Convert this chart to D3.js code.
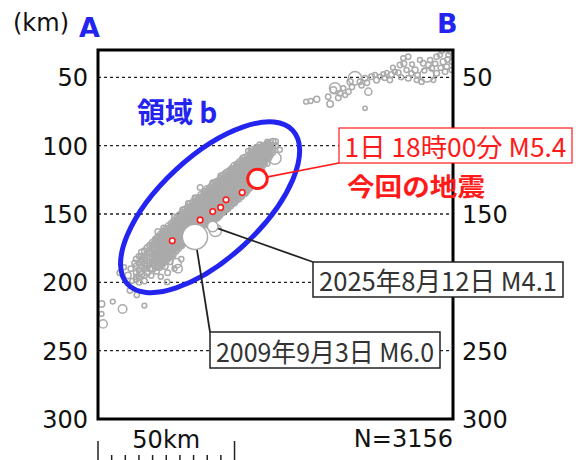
<!DOCTYPE html>
<html>
<head>
<meta charset="utf-8">
<script src="https://cdn.jsdelivr.net/npm/d3@7"></script>
<style>
  body { margin: 0; background: #fff; }
  svg { display: block; }
</style>
</head>
<body>
<svg id="chart" width="584" height="460"></svg>
<script>
// ---- data: distance along A-B (km), depth (km), magnitude ----
const depthTicks = [50, 100, 150, 200, 250, 300];
const rightDepthTicks = [50, 150, 250, 300];   // 100 and 200 sit under the label boxes
const gridDepths = [50, 100, 150, 200, 250];
const scaleBarKm = 50;
const scaleBarStepKm = 5;
const eventCount = 3156;

// dense slab seismicity: [distance, magnitude, [depths]]
const bandRows = [
  [14, 2.6, [183, 188, 193, 198]],
  [15, 2.5, [181, 186, 191, 196, 200]],
  [16, 2.8, [178, 184, 189, 194]],
  [17, 2.6, [177, 182, 186, 190, 195]],
  [18, 2.9, [175, 180, 184, 188, 193]],
  [19, 2.7, [173, 178, 182, 186, 190]],
  [20, 3.0, [171, 175, 179, 182, 186, 190]],
  [20.5, 2.7, [172, 176, 180, 184, 187]],
  [21, 2.9, [169, 173, 177, 180, 184, 188]],
  [21.5, 2.8, [170, 174, 178, 181, 185, 189]],
  [22, 3.2, [167, 171, 175, 178, 181, 185, 188]],
  [22.5, 2.9, [168, 172, 176, 179, 183, 186, 189]],
  [23, 3.0, [165, 169, 173, 176, 179, 183, 186]],
  [23.5, 2.8, [166, 170, 174, 177, 180, 184, 187]],
  [24, 3.2, [163, 167, 171, 174, 177, 181, 184]],
  [24.5, 2.9, [164, 168, 172, 175, 178, 182, 185]],
  [25, 3.0, [161, 165, 169, 172, 175, 179, 182]],
  [25.5, 2.8, [162, 166, 170, 173, 176, 180, 183]],
  [26, 3.3, [159, 163, 167, 170, 173, 177, 180]],
  [26.5, 2.9, [160, 164, 168, 171, 174, 178, 181]],
  [27, 3.1, [157, 161, 164, 168, 171, 175, 178]],
  [27.5, 2.8, [158, 162, 165, 169, 172, 176, 179]],
  [28, 3.2, [155, 159, 162, 166, 169, 173, 176]],
  [28.5, 2.9, [156, 160, 163, 167, 170, 174, 177]],
  [29, 3.0, [153, 157, 160, 164, 167, 171, 174]],
  [29.5, 2.8, [154, 158, 161, 165, 168, 172, 175]],
  [30, 3.3, [151, 155, 158, 162, 165, 169, 172]],
  [30.5, 2.9, [152, 156, 159, 163, 166, 170, 173]],
  [31, 3.1, [149, 153, 156, 160, 163, 167, 170]],
  [31.5, 2.8, [150, 154, 157, 161, 164, 168, 171]],
  [32, 3.2, [147, 151, 154, 158, 161, 165, 168]],
  [32.5, 2.9, [148, 152, 155, 159, 162, 166, 169]],
  [33, 3.0, [145, 149, 152, 156, 159, 163, 166]],
  [33.5, 2.8, [146, 150, 153, 157, 160, 164, 167]],
  [34, 3.3, [143, 147, 150, 154, 157, 161, 164]],
  [34.5, 2.9, [144, 148, 151, 155, 158, 162, 165]],
  [35, 3.1, [141, 145, 148, 152, 155, 159, 162]],
  [35.5, 2.8, [142, 146, 149, 153, 156, 160, 163]],
  [36, 3.2, [139, 143, 147, 150, 153, 157, 160]],
  [36.5, 2.9, [140, 144, 148, 151, 154, 158, 161]],
  [37, 3.0, [138, 141, 145, 148, 152, 155, 158]],
  [37.5, 2.8, [139, 142, 146, 149, 153, 156, 159]],
  [38, 3.3, [136, 140, 143, 147, 150, 153, 157]],
  [38.5, 2.9, [137, 141, 144, 148, 151, 154, 158]],
  [39, 3.1, [134, 138, 141, 145, 148, 152, 155]],
  [39.5, 2.8, [135, 139, 142, 146, 149, 153, 156]],
  [40, 3.2, [132, 136, 140, 143, 146, 150, 153, 157]],
  [40.5, 2.9, [133, 137, 141, 144, 147, 151, 154, 158]],
  [41, 3.0, [131, 134, 138, 141, 145, 148, 151, 155]],
  [41.5, 2.8, [132, 135, 139, 142, 146, 149, 152, 156]],
  [42, 3.3, [129, 133, 136, 140, 143, 146, 150, 153]],
  [42.5, 2.9, [130, 134, 137, 141, 144, 147, 151, 154]],
  [43, 3.1, [127, 131, 134, 138, 141, 145, 148, 152]],
  [43.5, 2.8, [128, 132, 135, 139, 142, 146, 149, 153]],
  [44, 3.2, [126, 129, 133, 136, 139, 143, 146, 150]],
  [44.5, 2.9, [127, 130, 134, 137, 140, 144, 147, 151]],
  [45, 3.0, [124, 127, 131, 134, 138, 141, 144, 148]],
  [45.5, 2.8, [125, 128, 132, 135, 139, 142, 145, 149]],
  [46, 3.3, [122, 126, 129, 133, 136, 139, 143, 146]],
  [46.5, 2.9, [123, 127, 130, 134, 137, 140, 144, 147]],
  [47, 3.1, [120, 124, 127, 131, 134, 138, 141, 145]],
  [47.5, 2.8, [121, 125, 128, 132, 135, 139, 142, 146]],
  [48, 3.2, [119, 122, 126, 129, 132, 136, 139, 143]],
  [48.5, 2.9, [120, 123, 127, 130, 133, 137, 140, 144]],
  [49, 3.0, [117, 121, 124, 127, 131, 134, 137, 141]],
  [49.5, 2.8, [118, 122, 125, 128, 132, 135, 138, 142]],
  [50, 3.3, [115, 119, 122, 126, 129, 132, 136, 139]],
  [50.5, 2.9, [116, 120, 123, 127, 130, 133, 137, 140]],
  [51, 3.1, [114, 117, 121, 124, 127, 131, 134, 138]],
  [51.5, 2.8, [115, 118, 122, 125, 128, 132, 135, 139]],
  [52, 3.2, [112, 116, 119, 122, 125, 129, 132, 136]],
  [52.5, 2.9, [113, 117, 120, 123, 126, 130, 133, 137]],
  [53, 3.0, [111, 114, 117, 120, 124, 127, 130, 134]],
  [53.5, 2.8, [112, 115, 118, 121, 125, 128, 131, 135]],
  [54, 3.3, [109, 112, 116, 119, 122, 125, 128, 132]],
  [54.5, 2.9, [110, 113, 117, 120, 123, 126, 129, 133]],
  [55, 3.1, [108, 111, 114, 117, 120, 123, 126, 130]],
  [55.5, 2.8, [109, 112, 115, 118, 121, 124, 127, 131]],
  [56, 3.2, [106, 109, 112, 115, 118, 121, 124, 128]],
  [56.5, 2.9, [107, 110, 113, 116, 119, 122, 125, 129]],
  [57, 3.0, [105, 108, 111, 114, 117, 120, 124]],
  [57.5, 2.8, [106, 109, 112, 115, 118, 121, 125]],
  [58, 3.2, [103, 106, 109, 112, 115, 118, 121]],
  [58.5, 2.9, [104, 107, 110, 113, 116, 119, 122]],
  [59, 3.0, [102, 105, 108, 111, 114, 117]],
  [59.5, 2.8, [103, 106, 109, 112, 115, 118]],
  [60, 3.1, [101, 104, 107, 110, 113]],
  [60.5, 2.8, [102, 105, 108, 111, 114]],
  [61, 2.9, [100, 103, 106, 109, 112]],
  [61.5, 2.7, [101, 104, 107, 110]],
  [62, 3.0, [99, 102, 105, 108]],
  [62.5, 2.7, [100, 103, 106, 109]],
  [63, 2.8, [98, 101, 104, 107]],
  [64, 2.9, [97, 100, 103]],
  [65, 2.6, [97, 100]]
];

// scattered events around the slab: [distance, depth, magnitude]
const slabFringe = [
  [8, 193, 2.6], [9.5, 189, 2.3], [11, 195, 3.0], [12, 190, 2.5], [12.5, 199, 2.2],
  [13.5, 186, 2.8], [14, 196, 2.4], [15.5, 192, 3.2], [16, 183, 2.4], [17, 199, 2.6],
  [17.5, 188, 2.3], [18.5, 178, 3.0], [19.5, 195, 2.4], [20.5, 186, 3.4], [21.5, 192, 2.5],
  [22.5, 183, 2.8], [23, 196, 2.3], [24.5, 188, 3.0], [25.5, 193, 2.6], [26.5, 185, 2.5],
  [28, 190, 2.3], [29.3, 190, 3.6], [25.3, 199.7, 2.5], [27.5, 180, 2.7], [30.5, 183, 2.4],
  [19, 173, 2.6], [16, 181, 3.0], [22, 163, 2.8], [24, 160, 2.3], [21.3, 168, 2.5],
  [28, 152, 2.4], [31, 147, 2.6], [33, 142, 2.2], [35.5, 138, 2.5], [37.4, 130.6, 2.6],
  [39, 133, 2.3], [42, 127, 2.4], [45, 122, 2.6], [49, 117.8, 2.7], [51, 113, 2.3],
  [53, 109, 2.6], [55, 104, 2.4], [56.3, 103, 3.0], [56.8, 105.3, 4.0], [59.3, 99.5, 2.8],
  [60, 100.7, 2.5], [63, 99.5, 2.6], [64.8, 109.2, 4.4], [66.6, 103, 2.3], [64, 105, 2.5],
  [62, 97, 2.2], [58, 101, 2.3],
  [33, 166, 2.5], [36, 160, 2.6], [40, 158, 2.4], [44, 152, 2.8], [47, 147, 2.3],
  [50, 142, 2.5], [54, 135, 2.4], [57, 127, 2.2], [60, 118, 2.6], [62, 113, 2.4],
  [31, 172, 2.6], [38, 164, 3.6], [43, 162, 4.4], [28.8, 186, 3.8],
  [1.3, 215.8, 3.0], [5.4, 214.1, 2.2], [9, 219.5, 3.6], [17, 217, 2.2], [11.7, 206, 2.5],
  [14.2, 209.2, 2.4], [1.3, 223.1, 2.2], [1.9, 230.4, 3.5]
];

// shallow cluster toward B
const shallowQuakes = [
  [76.2, 67.8, 2.2], [77.9, 67.3, 2.2], [80.1, 66.1, 2.8], [85, 69.5, 3.0], [84.3, 64.2, 2.5],
  [86.2, 59.3, 3.0], [86.8, 58, 4.2], [88.6, 61.7, 2.5], [89.8, 58, 2.3], [91.7, 60.5, 2.5],
  [92.3, 53.2, 2.8], [94.1, 50.7, 4.6], [95.9, 53.2, 2.5], [97.8, 50.7, 2.6], [99, 60.5, 3.2],
  [100.2, 49.5, 2.6], [101.4, 48.3, 2.3], [103.3, 49.5, 2.2], [104.5, 47.6, 2.2], [105.7, 46.6, 2.0],
  [97.8, 72.7, 2.0], [106.9, 52, 2.4], [108.7, 45.9, 2.2], [110.6, 41, 2.5], [111.8, 36.1, 2.3],
  [113.6, 34.9, 2.4], [113, 44.6, 2.3], [113.6, 50.7, 2.6], [116.1, 44.6, 2.8], [117.9, 37.3, 2.3],
  [119.1, 39.7, 2.5], [118.5, 53.2, 2.4], [120.4, 48.3, 4.7], [121.6, 37.3, 2.4], [122.2, 43.4, 2.6],
  [124, 34.9, 2.5], [125.2, 33.7, 2.2], [126.4, 38.6, 2.8], [127.7, 42.2, 2.5], [128.3, 33.7, 2.3],
  [128.9, 31.2, 2.1], [129.5, 38.6, 2.2], [129.5, 44.6, 2.3], [127.1, 45.9, 2.5], [124, 47.1, 2.6],
  [122.8, 52, 2.2], [116.7, 52, 2.2], [114.8, 47.1, 2.4],
  [88, 65, 2.6], [90.5, 63, 2.2], [93, 57, 2.4], [96.5, 56, 2.3], [98.5, 54, 2.5],
  [102, 52, 2.7], [105, 50.5, 2.3], [107.5, 48, 2.6], [110, 46.5, 2.4], [112, 40, 2.6],
  [115, 40.5, 2.2], [117, 48.5, 2.5], [119.5, 45, 2.3], [121, 41, 2.7], [123.5, 40, 2.3],
  [125.5, 43, 2.4], [126, 30.5, 2.2], [128, 37, 2.6], [130, 35, 2.2], [111, 50, 2.3], [108, 43, 2.2]
];

// events of the current sequence: [distance, depth]
const recentQuakes = [[27.2, 169.6], [37.4, 154.3], [42, 148.2], [44.9, 145.2], [46.9, 139.6], [52.8, 134.3]];
const recentMag = 2.6;

const mainShock = { dist: 58.4, depth: 124.3, mag: 5.4, label: "1日 18時00分 M5.4", note: "今回の地震" };
const pastEvents = [
  { dist: 35.5, depth: 166.7, mag: 6.0, label: "2009年9月3日 M6.0" },
  { dist: 42.0, depth: 159.2, mag: 4.1, label: "2025年8月12日 M4.1" }
];

// outlined region: ends of the long axis (distance, depth) and minor/major ratio
const regionB = { from: [10.8, 201.3], to: [71.3, 88.8], ratio: 0.45, name: "領域 b" };

// ---- layout ----
const frame = { left: 98, right: 453, top: 50, bottom: 419 };
const svg = d3.select("#chart");
const blue = "#2424f0";
const red = "#ff1a1a";
const grey = "#aaaaaa";
const sans = "'DejaVu Sans', sans-serif";
const cjk = "'Noto Sans CJK JP', sans-serif";

const x = d3.scaleLinear().domain([0, 130]).range([frame.left, frame.right]);
const y = d3.scaleLinear().domain([30, 300]).range([frame.top, frame.bottom]);
const r = d3.scaleLinear().domain([1, 2, 3, 4, 5, 6]).range([1.4, 2.2, 3.2, 5.0, 7.8, 12.6]);

svg.append("defs").append("clipPath").attr("id", "plot-clip")
  .append("rect")
  .attr("x", frame.left).attr("y", frame.top)
  .attr("width", frame.right - frame.left).attr("height", frame.bottom - frame.top);

// depth grid
svg.append("g").selectAll("line").data(gridDepths).join("line")
  .attr("x1", frame.left).attr("x2", frame.right)
  .attr("y1", d => y(d)).attr("y2", d => y(d))
  .attr("stroke", "#222").attr("stroke-width", 1.4).attr("stroke-dasharray", "3,3");

// hypocentres
const bandQuakes = bandRows.flatMap(([dist, mag, depths]) => depths.map(dp => [dist, dp, mag]));
const allQuakes = [...bandQuakes, ...slabFringe, ...shallowQuakes];

const plot = svg.append("g").attr("clip-path", "url(#plot-clip)");
plot.append("g").selectAll("circle").data(allQuakes).join("circle")
  .attr("cx", d => x(d[0])).attr("cy", d => y(d[1])).attr("r", d => r(d[2]))
  .attr("fill", "none").attr("stroke", grey).attr("stroke-width", 1.5);

// region outline
{
  const p1 = [x(regionB.from[0]), y(regionB.from[1])];
  const p2 = [x(regionB.to[0]), y(regionB.to[1])];
  const cx = (p1[0] + p2[0]) / 2, cy = (p1[1] + p2[1]) / 2;
  const a = Math.hypot(p2[0] - p1[0], p2[1] - p1[1]) / 2;
  const ang = Math.atan2(p2[1] - p1[1], p2[0] - p1[0]) * 180 / Math.PI;
  svg.append("ellipse")
    .attr("transform", `translate(${cx},${cy}) rotate(${ang})`)
    .attr("rx", a).attr("ry", a * regionB.ratio)
    .attr("fill", "none").attr("stroke", blue).attr("stroke-width", 5);
}

// annotation boxes
const boxes = [
  { ev: pastEvents[0], x: 210, y: 332, w: 230, h: 36, tl: 218, corner: "top", color: "#333", stroke: "#222" },
  { ev: pastEvents[1], x: 313, y: 262, w: 250, h: 35, tl: 238, corner: "top", color: "#333", stroke: "#222" },
  { ev: mainShock,     x: 339, y: 128, w: 233, h: 35, tl: 222, corner: "bottom", color: red, stroke: red }
];

// leader lines
svg.append("g").selectAll("line").data(boxes).join("line")
  .attr("x1", d => x(d.ev.dist)).attr("y1", d => y(d.ev.depth))
  .attr("x2", d => d.x).attr("y2", d => d.corner === "top" ? d.y : d.y + d.h)
  .attr("stroke", d => d.stroke).attr("stroke-width", d => d.ev === mainShock ? 1.6 : 1.8);

// labelled past events
svg.append("g").selectAll("circle").data(pastEvents).join("circle")
  .attr("cx", d => x(d.dist)).attr("cy", d => y(d.depth)).attr("r", d => r(d.mag))
  .attr("fill", "#fff").attr("stroke", grey).attr("stroke-width", 1.5);

// current sequence
svg.append("g").selectAll("circle").data(recentQuakes).join("circle")
  .attr("cx", d => x(d[0])).attr("cy", d => y(d[1])).attr("r", r(recentMag))
  .attr("fill", "#fff").attr("stroke", red).attr("stroke-width", 1.6);

svg.append("circle")
  .attr("cx", x(mainShock.dist)).attr("cy", y(mainShock.depth)).attr("r", r(mainShock.mag))
  .attr("fill", "#fff").attr("stroke", red).attr("stroke-width", 3);

// frame
svg.append("rect")
  .attr("x", frame.left).attr("y", frame.top)
  .attr("width", frame.right - frame.left).attr("height", frame.bottom - frame.top)
  .attr("fill", "none").attr("stroke", "#000").attr("stroke-width", 3);

// depth axes
function styleAxis(g) {
  g.select(".domain").remove();
  g.selectAll("text").attr("font-family", sans).attr("font-size", 24).attr("fill", "#111").attr("dy", "0.36em");
}
svg.append("g").attr("transform", `translate(${frame.left},0)`)
  .call(d3.axisLeft(y).tickValues(depthTicks).tickSize(0).tickPadding(10)).call(styleAxis);
svg.append("g").attr("transform", `translate(${frame.right},0)`)
  .call(d3.axisRight(y).tickValues(rightDepthTicks).tickSize(0).tickPadding(9)).call(styleAxis);

// boxes with text
const boxG = svg.append("g").selectAll("g").data(boxes).join("g");
boxG.append("rect")
  .attr("x", d => d.x).attr("y", d => d.y).attr("width", d => d.w).attr("height", d => d.h)
  .attr("fill", "#fff").attr("stroke", d => d.stroke).attr("stroke-width", d => d.ev === mainShock ? 1.2 : 1.5);
boxG.append("text")
  .attr("x", d => d.x + (d.w - d.tl) / 2).attr("y", d => d.y + d.h - 6)
  .attr("textLength", d => d.tl).attr("lengthAdjust", "spacingAndGlyphs")
  .attr("font-family", cjk).attr("font-size", 26).attr("fill", d => d.color)
  .text(d => d.ev.label);

svg.append("text").attr("x", 347).attr("y", 196)
  .attr("textLength", 138).attr("lengthAdjust", "spacingAndGlyphs")
  .attr("font-family", cjk).attr("font-weight", "bold").attr("font-size", 25).attr("fill", red)
  .text(mainShock.note);

svg.append("text").attr("x", 137).attr("y", 123)
  .attr("font-family", cjk).attr("font-weight", "bold").attr("font-size", 28).attr("fill", blue)
  .text(regionB.name);

// titles
svg.append("text").attr("x", 13).attr("y", 31)
  .attr("font-family", sans).attr("font-size", 24).attr("fill", "#111").text("(km)");
svg.append("text").attr("x", 79).attr("y", 37)
  .attr("font-family", sans).attr("font-weight", "bold").attr("font-size", 27).attr("fill", blue).text("A");
svg.append("text").attr("x", 437).attr("y", 33)
  .attr("font-family", sans).attr("font-weight", "bold").attr("font-size", 27).attr("fill", blue).text("B");

// count
svg.append("text").attr("x", frame.right).attr("y", 447).attr("text-anchor", "end")
  .attr("font-family", sans).attr("font-size", 24).attr("fill", "#111").text(`N=${eventCount}`);

// distance scale bar
{
  const g = svg.append("g").attr("stroke", "#222").attr("stroke-width", 1.5);
  const ticks = d3.range(0, scaleBarKm + scaleBarStepKm, scaleBarStepKm);
  g.selectAll("line").data(ticks).join("line")
    .attr("x1", d => x(d)).attr("x2", d => x(d))
    .attr("y1", d => (d === 0 || d === scaleBarKm) ? 441 : 455).attr("y2", 461);
  svg.append("text").attr("x", (x(0) + x(scaleBarKm)) / 2).attr("y", 448).attr("text-anchor", "middle")
    .attr("font-family", sans).attr("font-size", 24).attr("fill", "#111").text(`${scaleBarKm}km`);
}
</script>
</body>
</html>
